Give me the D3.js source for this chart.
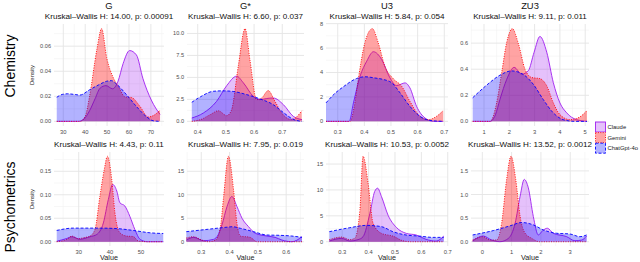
<!DOCTYPE html>
<html lang="en">
<head>
<meta charset="utf-8">
<title>Density by model</title>
<script src="https://d3js.org/d3.v7.min.js"></script>
<style>
  body { margin: 0; background: #fff; }
  svg text { font-family: "Liberation Sans", Arial, sans-serif; }
</style>
</head>
<body>
<div id="chart"></div>
<script>

// models, metrics, rows
var models = ["Claude", "Gemini", "ChatGpt-4o"];
var metrics = ["G", "G*", "U3", "ZU3"];
var domains = ["Chemistry", "Psychometrics"];

// Kruskal-Wallis results, row by row
var kwH = ["14.00", "6.60", "5.84", "9.11", "4.43", "7.95", "10.53", "13.52"];
var kwP = ["0.00091", "0.037", "0.054", "0.011", "0.11", "0.019", "0.0052", "0.0012"];

// axis limits and ticks per panel
var xLimits = [[25.75, 76.0], [0.362, 0.777], [0.256, 0.714], [0.486, 5.15],
               [22.08, 57.34], [0.2495, 0.663], [0.2385, 0.701], [-0.386, 3.64]];
var xTicks = [[30, 40, 50, 60, 70], [0.4, 0.5, 0.6, 0.7], [0.3, 0.4, 0.5, 0.6, 0.7], [1, 2, 3, 4, 5],
              [30, 40, 50], [0.3, 0.4, 0.5, 0.6], [0.3, 0.4, 0.5, 0.6, 0.7], [0, 1, 2, 3]];
var yTicks = [[0, 0.02, 0.04, 0.06], [0, 2.5, 5, 7.5, 10], [0, 2, 4, 6, 8], [0, 0.2, 0.4, 0.6],
              [0, 0.05, 0.1, 0.15], [0, 5, 10, 15], [0, 5, 10, 15], [0, 0.5, 1, 1.5]];
var xFmt = ["d", ".1f", ".1f", "d", "d", ".1f", ".1f", "d"];
var yFmt = [".2f", ".1f", "d", ".1f", ".2f", "d", "d", ".1f"];

// density curves [value, density]
var chemG_claude = [[27,0],[37,0],[39.5,0.002],[42,0.0085],[44.5,0.018],[46.8,0.0265],[49.5,0.0285],[52.5,0.026],[55,0.032],[57.3,0.046],[60.3,0.0565],[63.4,0.053],[66.4,0.034],[70.2,0.017],[74.2,0.0055]];
var chemG_gemini = [[27,0],[37.5,0],[40,0.004],[42,0.02],[45.3,0.057],[47.5,0.074],[49.8,0.051],[52.8,0.035],[55.1,0.028],[58.2,0.0195],[61.2,0.019],[65,0.012],[68.8,0.0035],[71.5,0.005],[74.2,0.009]];
var chemG_gpt = [[27,0.0192],[29.5,0.0215],[32,0.022],[35,0.0215],[37.6,0.021],[42,0.0252],[46,0.029],[49.8,0.032],[52,0.0325],[54.4,0.0296],[59,0.021],[63.5,0.0117],[68,0.0037],[71,0.0005],[74.2,0]];

var chemGs_claude = [[0.379,0.38],[0.42,0.95],[0.467,2.28],[0.503,4.07],[0.538,5.14],[0.562,4.38],[0.597,2.85],[0.62,2.47],[0.645,2.6],[0.668,2.66],[0.704,1.9],[0.739,0.57],[0.77,0.2]];
var chemGs_gemini = [[0.379,0],[0.41,0.2],[0.444,0.76],[0.473,1.2],[0.503,0.65],[0.52,1.3],[0.544,6.3],[0.568,10.55],[0.585,7.04],[0.609,2.47],[0.627,2.66],[0.65,3.5],[0.674,2.28],[0.698,0.95],[0.733,0.2],[0.769,1.2]];
var chemGs_gpt = [[0.379,2.17],[0.41,2.8],[0.455,3.42],[0.49,3.47],[0.526,3.4],[0.574,3.04],[0.621,2.55],[0.668,1.9],[0.704,1.0],[0.739,0.23],[0.77,0]];

var chemU3_claude = [[0.256,0],[0.343,0],[0.359,1.51],[0.384,3.7],[0.409,4.93],[0.434,5.7],[0.465,5.07],[0.496,3.56],[0.521,2.93],[0.553,3.15],[0.571,2.74],[0.596,1.23],[0.628,0.27],[0.66,0],[0.696,0]];
var chemU3_gemini = [[0.256,0],[0.346,0],[0.362,1.2],[0.377,3.43],[0.402,6.44],[0.43,7.59],[0.452,6.44],[0.477,4.52],[0.509,3.48],[0.54,2.88],[0.571,1.64],[0.609,0.41],[0.64,0.14],[0.67,0.4],[0.696,0.88]];
var chemU3_gpt = [[0.256,1.51],[0.29,2.3],[0.321,2.83],[0.371,3.51],[0.402,3.65],[0.44,3.55],[0.471,3.43],[0.503,3.15],[0.534,2.33],[0.571,1.23],[0.609,0.41],[0.646,0.08],[0.696,0]];

var chemZU3_claude = [[0.553,0],[1.24,0],[1.45,0.05],[1.63,0.168],[1.9,0.323],[2.19,0.414],[2.49,0.362],[2.75,0.388],[2.98,0.53],[3.21,0.651],[3.48,0.53],[3.74,0.297],[4.0,0.142],[4.27,0.065],[4.66,0.013],[5.07,0]];
var chemZU3_gemini = [[0.553,0],[1.24,0],[1.5,0.142],[1.7,0.375],[1.9,0.608],[2.12,0.711],[2.36,0.595],[2.62,0.4],[2.89,0.336],[3.21,0.328],[3.48,0.272],[3.74,0.142],[4.0,0.052],[4.4,0.013],[4.75,0.03],[5.07,0.083]];
var chemZU3_gpt = [[0.553,0.181],[1.1,0.277],[1.63,0.354],[2.09,0.387],[2.55,0.36],[2.95,0.284],[3.34,0.168],[3.74,0.065],[4.13,0.013],[4.6,0],[5.07,0]];

var psyG_claude = [[22.95,0.001],[26.2,0.007],[27.8,0.0106],[30.4,0.0053],[33.6,0.0106],[35.8,0.0155],[37.9,0.04],[39.5,0.09],[40.9,0.122],[42.2,0.108],[43.2,0.083],[44.8,0.076],[46.4,0.054],[48,0.026],[49.7,0.005],[52,0],[57.1,0]];
var psyG_gemini = [[22.95,0],[26.2,0.005],[27.8,0.012],[29.9,0.0064],[31.5,0.0085],[33.6,0.012],[35.2,0.026],[36.8,0.097],[38.2,0.154],[39.2,0.182],[40.6,0.132],[41.6,0.062],[43.2,0.019],[45.4,0.012],[47.5,0.011],[49.1,0.0015],[52,0],[57.1,0]];
var psyG_gpt = [[22.95,0.024],[28.3,0.029],[36.8,0.029],[42.2,0.028],[47.5,0.024],[52.9,0.019],[57.1,0.0175]];

var psyGs_claude = [[0.247,0.36],[0.273,0.93],[0.308,0.21],[0.343,0.5],[0.36,1.5],[0.373,3.57],[0.391,7.5],[0.408,9.64],[0.426,7.5],[0.444,5.0],[0.467,3.21],[0.491,1.79],[0.532,1.21],[0.561,0.93],[0.585,0.36],[0.62,0],[0.656,1.07]];
var psyGs_gemini = [[0.247,0.79],[0.273,1.07],[0.302,0.36],[0.325,0],[0.35,0.36],[0.367,2.86],[0.379,9.6],[0.396,18.2],[0.414,11.07],[0.426,3.93],[0.438,1.21],[0.473,0.93],[0.497,0],[0.656,0]];
var psyGs_gpt = [[0.247,2.14],[0.332,2.71],[0.391,3.1],[0.41,3.2],[0.438,2.86],[0.485,2.14],[0.532,1.43],[0.579,1.36],[0.62,1.21],[0.656,0.93]];

var psyU3_claude = [[0.251,0.13],[0.298,0.65],[0.329,0.13],[0.36,0.4],[0.379,0.97],[0.405,5.49],[0.423,9.69],[0.434,10.34],[0.449,8.7],[0.474,5.1],[0.505,2.78],[0.543,1.61],[0.581,1.29],[0.618,0.45],[0.656,0.13],[0.685,1.09]];
var psyU3_gemini = [[0.251,0.4],[0.298,0.9],[0.329,0.4],[0.348,0.7],[0.367,6.1],[0.379,16.5],[0.398,11.3],[0.417,3.55],[0.449,1.61],[0.492,1.09],[0.53,0.19],[0.56,0],[0.685,0]];
var psyU3_gpt = [[0.251,1.94],[0.329,2.71],[0.392,3.16],[0.449,2.91],[0.492,1.94],[0.543,1.29],[0.593,1.09],[0.643,0.84],[0.685,0.84]];

var psyZU3_claude = [[-0.33,0.014],[0.03,0.121],[0.32,0.036],[0.6,0],[0.89,0.071],[1.12,0.393],[1.29,0.964],[1.43,1.32],[1.57,1.14],[1.74,0.535],[1.91,0.143],[2.06,0.236],[2.22,0.286],[2.42,0.179],[2.88,0.107],[3.16,0.021],[3.39,0.036],[3.56,0.121]];
var psyZU3_gemini = [[-0.33,0.036],[0.03,0.107],[0.26,0.036],[0.49,0.036],[0.66,0.393],[0.83,1.32],[0.98,1.81],[1.14,1.32],[1.29,0.535],[1.46,0.179],[1.69,0.071],[1.95,0],[3.56,0]];
var psyZU3_gpt = [[-0.33,0.143],[0.375,0.236],[0.945,0.336],[1.34,0.407],[1.74,0.357],[2.08,0.25],[2.54,0.179],[2.99,0.164],[3.33,0.107],[3.56,0.143]];

var panelSeries = [
  [chemG_claude, chemG_gemini, chemG_gpt],
  [chemGs_claude, chemGs_gemini, chemGs_gpt],
  [chemU3_claude, chemU3_gemini, chemU3_gpt],
  [chemZU3_claude, chemZU3_gemini, chemZU3_gpt],
  [psyG_claude, psyG_gemini, psyG_gpt],
  [psyGs_claude, psyGs_gemini, psyGs_gpt],
  [psyU3_claude, psyU3_gemini, psyU3_gpt],
  [psyZU3_claude, psyZU3_gemini, psyZU3_gpt]
];

// styles
var fillCol = ["#A020F0", "#FF0000", "#0000FF"];
var fillOp = [0.28, 0.36, 0.3];
var lineCol = ["#A020F0", "#FF0000", "#0000FF"];
var lineDash = [null, "1,1.4", "3,1.8"];

// layout
var colX = [[54, 164], [187, 304], [326, 448], [471, 589]];
var rowY = [[24, 126], [152, 246]];

var svg = d3.select("#chart").append("svg")
    .attr("width", 640)
    .attr("height", 262);

svg.append("rect").attr("width", 640).attr("height", 262).attr("fill", "#fff");

function minorBreaks(ticks, dom) {
  var step = ticks[1] - ticks[0];
  var out = [];
  for (var k = -1; k < ticks.length; k++) {
    var m = ticks[0] + (k + 0.5) * step;
    if (m >= dom[0] && m <= dom[1]) out.push(m);
  }
  return out;
}

panelSeries.forEach(function(series, i) {
  var r = Math.floor(i / 4), c = i % 4;
  var x = d3.scaleLinear().domain(xLimits[i]).range(colX[c]);
  var ymax = d3.max(series, function(s) { return d3.max(s, function(d) { return d[1]; }); });
  var y = d3.scaleLinear().domain([-0.05 * ymax, 1.05 * ymax]).range([rowY[r][1], rowY[r][0]]);

  var g = svg.append("g");

  // minor grid
  minorBreaks(xTicks[i], x.domain()).forEach(function(v) {
    g.append("line").attr("x1", x(v)).attr("x2", x(v))
      .attr("y1", rowY[r][0]).attr("y2", rowY[r][1])
      .attr("stroke", "#f2f2f2").attr("stroke-width", 0.6);
  });
  minorBreaks(yTicks[i], y.domain()).forEach(function(v) {
    g.append("line").attr("x1", colX[c][0]).attr("x2", colX[c][1])
      .attr("y1", y(v)).attr("y2", y(v))
      .attr("stroke", "#f2f2f2").attr("stroke-width", 0.6);
  });
  // major grid
  xTicks[i].forEach(function(v) {
    g.append("line").attr("x1", x(v)).attr("x2", x(v))
      .attr("y1", rowY[r][0]).attr("y2", rowY[r][1])
      .attr("stroke", "#e4e4e4").attr("stroke-width", 0.9);
  });
  yTicks[i].forEach(function(v) {
    g.append("line").attr("x1", colX[c][0]).attr("x2", colX[c][1])
      .attr("y1", y(v)).attr("y2", y(v))
      .attr("stroke", "#e4e4e4").attr("stroke-width", 0.9);
  });

  var area = d3.area()
      .x(function(d) { return x(d[0]); })
      .y0(y(0))
      .y1(function(d) { return y(d[1]); })
      .curve(d3.curveMonotoneX);
  var line = d3.line()
      .x(function(d) { return x(d[0]); })
      .y(function(d) { return y(d[1]); })
      .curve(d3.curveMonotoneX);

  series.forEach(function(s, k) {
    g.append("path").attr("d", area(s))
      .attr("fill", fillCol[k]).attr("fill-opacity", fillOp[k]);
    g.append("path").attr("d", line(s))
      .attr("fill", "none")
      .attr("stroke", lineCol[k])
      .attr("stroke-width", 0.9)
      .attr("stroke-dasharray", lineDash[k]);
  });

  // tick labels
  var fx = d3.format(xFmt[i]), fy = d3.format(yFmt[i]);
  g.selectAll(".xt").data(xTicks[i]).enter().append("text")
    .attr("x", function(d) { return x(d); })
    .attr("y", rowY[r][1] + 7.5)
    .attr("text-anchor", "middle")
    .attr("font-size", 5.8)
    .attr("fill", "#4d4d4d")
    .text(function(d) { return fx(d); });
  g.selectAll(".yt").data(yTicks[i]).enter().append("text")
    .attr("x", colX[c][0] - 3)
    .attr("y", function(d) { return y(d) + 2; })
    .attr("text-anchor", "end")
    .attr("font-size", 5.6)
    .attr("fill", "#4d4d4d")
    .text(function(d) { return fy(d); });

  var cx = (colX[c][0] + colX[c][1]) / 2;
  if (r === 0) {
    g.append("text").attr("x", cx).attr("y", 9)
      .attr("text-anchor", "middle").attr("font-size", 9.4).attr("fill", "#111")
      .text(metrics[c]);
  }
  g.append("text").attr("x", cx).attr("y", rowY[r][0] - 5.5)
    .attr("text-anchor", "middle").attr("font-size", 8.1).attr("fill", "#111")
    .text("Kruskal\u2013Wallis H: " + kwH[i] + ", p: " + kwP[i]);

  if (r === 1) {
    g.append("text").attr("x", cx).attr("y", 260)
      .attr("text-anchor", "middle").attr("font-size", 7.2).attr("fill", "#222")
      .text("Value");
  }
  if (c === 0) {
    var my = (rowY[r][0] + rowY[r][1]) / 2;
    g.append("text")
      .attr("transform", "translate(34," + my + ")rotate(-90)")
      .attr("text-anchor", "middle").attr("font-size", 6).attr("fill", "#222")
      .text("Density");
  }
});

// row labels
var rowLabelY = [66, 207];
domains.forEach(function(d, r) {
  svg.append("text")
    .attr("transform", "translate(15," + rowLabelY[r] + ")rotate(-90)")
    .attr("text-anchor", "middle")
    .attr("font-size", 14)
    .attr("fill", "#000")
    .text(d);
});

// legend
var lg = svg.append("g").attr("transform", "translate(595,121.5)");
models.forEach(function(m, k) {
  var yy = k * 10.6;
  lg.append("rect").attr("x", 0.5).attr("y", yy + 0.5).attr("width", 10).attr("height", 10)
    .attr("fill", "#fff");
  lg.append("rect").attr("x", 0.5).attr("y", yy + 0.5).attr("width", 10).attr("height", 10)
    .attr("fill", fillCol[k]).attr("fill-opacity", fillOp[k])
    .attr("stroke", lineCol[k]).attr("stroke-width", 0.9)
    .attr("stroke-dasharray", lineDash[k]);
  lg.append("text").attr("x", 12.5).attr("y", yy + 7.4)
    .attr("font-size", 5.9).attr("fill", "#222")
    .text(m);
});

</script>
</body>
</html>
